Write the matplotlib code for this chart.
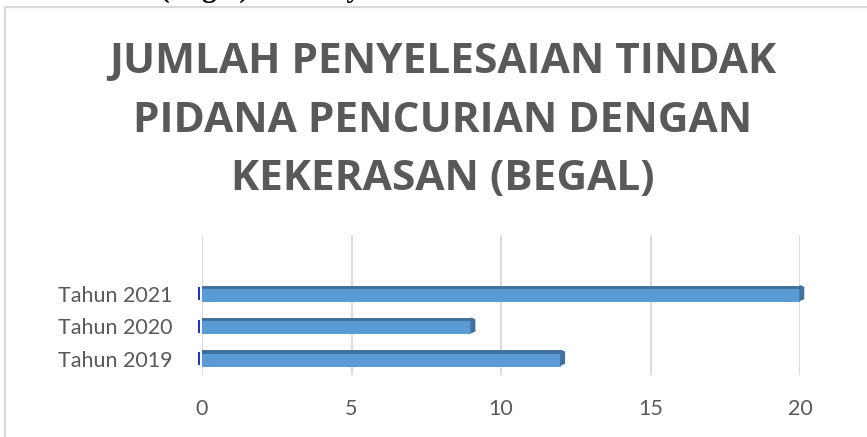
import matplotlib.pyplot as plt
from matplotlib.patches import Rectangle, Polygon

# data
categories = ['Tahun 2019', 'Tahun 2020', 'Tahun 2021']
values = [12, 9, 20]
title = 'JUMLAH PENYELESAIAN TINDAK\nPIDANA PENCURIAN DENGAN\nKEKERASAN (BEGAL)'
xticks = [0, 5, 10, 15, 20]
caption = '(Begal) di Wilayah Hukum Polres'

bar_color = '#5B9BD5'
top_color = '#41719C'
text_gray = '#595959'
grid_gray = '#D9D9D9'

fig = plt.figure(figsize=(8.67, 4.37), dpi=100)
fig.patch.set_facecolor('white')

# caption line of the page above the chart, cut off by the top edge
fig.text(0.185, 1 + 3 / 437, caption, family='Liberation Serif', weight='bold',
         fontsize=21, ha='left', va='baseline', color='black')

# chart frame (only top and left edges show)
fig.patches.append(Rectangle((5 / 867, -0.1), 1.2, 1.1 - 7 / 437,
                             transform=fig.transFigure, fill=False,
                             edgecolor=grid_gray, linewidth=1.6))

fig.text(0.511, 1 - 121 / 437, title, family='Open Sans', weight='bold',
         fontsize=30.5, ha='center', va='center', color=text_gray,
         linespacing=1.57)

ax = fig.add_axes([202 / 867, 62 / 437, 598 / 867, 140 / 437])
ax.patch.set_alpha(0)
y = list(range(len(categories)))
h = 0.5

ax.barh(y, values, height=h, color=bar_color, zorder=3)
# darker top face to mimic the 3-D bar
ax.barh([i + h / 2 - 0.05 for i in y], values, height=0.1, color=top_color, zorder=4)
# end caps
for i, v in zip(y, values):
    ax.add_patch(Polygon([(v, i - h / 2 + 0.05), (v, i + h / 2),
                          (v + 0.12, i + h / 2 - 0.05), (v + 0.12, i - h / 2 + 0.1)],
                         closed=True, color=top_color, zorder=4, clip_on=False))
ax.vlines([-0.1] * len(y), [i - h / 2 + 0.05 for i in y], [i + h / 2 - 0.05 for i in y],
          color='#2233CC', linewidth=1.5, zorder=5, clip_on=False)

ax.set_xlim(0, 20)
ax.set_ylim(-0.51, 3.82)
ax.set_xticks(xticks)
ax.set_yticks(y)
ax.set_yticklabels(categories)
ax.xaxis.grid(True, color=grid_gray, linewidth=1.3, zorder=0)
ax.tick_params(length=0)
ax.tick_params(axis='y', pad=21)
ax.tick_params(axis='x', pad=17)
for lab in ax.get_xticklabels() + ax.get_yticklabels():
    lab.set_family('Lato')
    lab.set_fontsize(15.5)
    lab.set_color(text_gray)
for s in ax.spines.values():
    s.set_visible(False)

fig.savefig('out.png', dpi=100)
